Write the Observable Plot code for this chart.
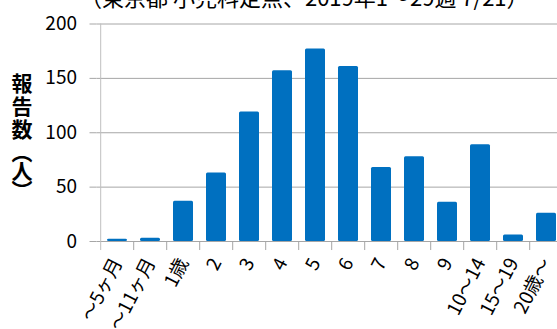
<!DOCTYPE html>
<html><head><meta charset="utf-8">
<script src="https://cdn.jsdelivr.net/npm/d3@7"></script>
<script src="https://cdn.jsdelivr.net/npm/@observablehq/plot@0.6"></script>
<style>
html,body{margin:0;padding:0;overflow:hidden;background:#fff;width:557px;height:329px;}
#wrap{position:relative;width:557px;height:329px;overflow:hidden;}
#title{position:absolute;left:80px;top:-20px;font:22px "Noto Sans CJK JP";white-space:nowrap;color:#000;}
#ylab{position:absolute;left:9px;top:73px;writing-mode:vertical-rl;font:bold 21px "Noto Sans CJK JP";line-height:26px;color:#000;white-space:nowrap;}
#chart{position:absolute;left:0;top:0;}
#chart svg{max-width:none;}
</style></head>
<body><div id="wrap"><div id="title">（東京都 小児科定点、2019年1～29週 7/21）</div><div id="ylab"><span style="letter-spacing:2px">報告数</span><span style="letter-spacing:-2px">（人）</span></div><div id="chart"></div></div>
<script>
const categories = ["～5ヶ月","～11ヶ月","1歳","2","3","4","5","6","7","8","9","10～14","15～19","20歳～"];
const counts = [2,3,37,63,119,157,177,161,68,78,36,89,6,26];
const yTicks = [0,50,100,150,200];
const data = categories.map((c,i)=>({category:c,count:counts[i]}));
const W=580, ML=96.5, MR=13;
const step=(W-ML-MR)/categories.length;
const plot = Plot.plot({
  width:W,height:329,marginLeft:ML,marginRight:MR,marginTop:23.5,marginBottom:88,
  style:{fontFamily:'"Noto Sans CJK JP", sans-serif',fontSize:"19px",color:"#000",background:"transparent",overflow:"visible",maxWidth:"none"},
  x:{domain:categories,paddingInner:0.4,paddingOuter:0.2},
  y:{domain:[0,200]},
  marks:[
    Plot.ruleY(yTicks.slice(1),{stroke:"#a6a6a6"}),
    Plot.barY(data,{x:"category",y:"count",fill:"#0070C0",rx:1.5}),
    Plot.ruleY([0],{stroke:"#a6a6a6"}),
    Plot.ruleX(categories.slice(1),{x:d=>d,dx:-step/2,y1:0,y2:-8.3,stroke:"#a6a6a6"}),
    Plot.ruleX([categories[0]],{x:d=>d,dx:-step/2,y1:-8.3,y2:200,stroke:"#bfbfbf"}),
    Plot.axisY({ticks:yTicks,tickSize:7,tickPadding:13,stroke:"#a6a6a6",fill:"#000",fontSize:19,label:null}),
    Plot.axisX({tickSize:0,tickRotate:-63,tickPadding:18,fill:"#000",fontSize:19,label:null})
  ]
});
document.getElementById("chart").appendChild(plot);
</script>
</body></html>
